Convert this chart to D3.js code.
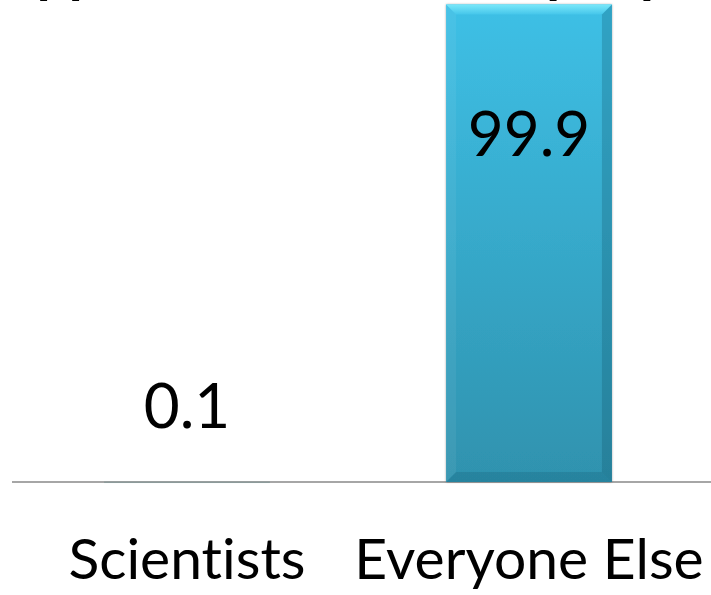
<!DOCTYPE html>
<html>
<head>
<meta charset="utf-8">
<script src="https://cdn.jsdelivr.net/npm/d3@7/dist/d3.min.js"></script>
<style>
  html, body { margin: 0; padding: 0; background: #ffffff; }
  svg { display: block; }
  text { font-family: Lato, "Open Sans", sans-serif; fill: #000; font-variant-ligatures: none; font-feature-settings: "liga" 0, "clig" 0; }
</style>
</head>
<body>
<svg id="chart" width="711" height="595"></svg>
<script>
const categories = ["Scientists", "Everyone Else"];
const values = [0.1, 99.9];
const valueLabels = ["0.1", "99.9"];
const titleText = "Approximate share of people (%)";

const W = 711, H = 595;
const svg = d3.select("#chart");

const x = d3.scaleBand().domain(categories).range([16, 700])
  .paddingInner(0.515).paddingOuter(0.2575);
const y = d3.scaleLinear().domain([0, 100]).range([482, 4]);

const defs = svg.append("defs");
const g1 = defs.append("linearGradient").attr("id", "barGrad")
  .attr("x1", 0).attr("y1", 0).attr("x2", 0).attr("y2", 1);
g1.append("stop").attr("offset", "0%").attr("stop-color", "#3ec0e6");
g1.append("stop").attr("offset", "100%").attr("stop-color", "#2f92ae");

const gTop = defs.append("linearGradient").attr("id", "topBevel")
  .attr("x1", 0).attr("y1", 0).attr("x2", 0).attr("y2", 1);
gTop.append("stop").attr("offset", "0%").attr("stop-color", "#7ae8fa");
gTop.append("stop").attr("offset", "100%").attr("stop-color", "#45c6ea");

const shadow = defs.append("filter").attr("id", "shadow")
  .attr("x", "-10%").attr("y", "-10%").attr("width", "120%").attr("height", "120%");
shadow.append("feDropShadow").attr("dx", 0).attr("dy", 0).attr("stdDeviation", 1.2)
  .attr("flood-color", "#000").attr("flood-opacity", 0.35);

// Title (cut off at the top edge, only descenders visible)
svg.append("text")
  .attr("x", -2).attr("y", -8)
  .style("font-weight", "bold").style("font-size", "56px")
  .text(titleText);

// Axis baseline
const axis = svg.append("g").attr("transform", `translate(0,${y(0)})`)
  .call(d3.axisBottom(x).tickSize(0).tickPadding(57));
axis.select(".domain").remove();
axis.append("line").attr("x1", 12).attr("x2", W).attr("y1", 0).attr("y2", 0)
  .attr("stroke", "#a6a6a6").attr("stroke-width", 2);
axis.selectAll(".tick text")
  .style("font-family", "Lato, 'Open Sans', sans-serif")
  .style("font-variant-ligatures", "none")
  .style("font-size", "57px").attr("fill", "#000")
  .attr("dy", "0.71em");

const data = categories.map((c, i) => ({ c, v: values[i], label: valueLabels[i] }));

const bars = svg.append("g").selectAll("g").data(data).join("g");

bars.append("rect")
  .attr("x", d => x(d.c)).attr("width", x.bandwidth())
  .attr("y", d => y(d.v)).attr("height", d => Math.max(y(0) - y(d.v), 1.5))
  .attr("fill", d => d.v < 1 ? "#8c9a9a" : "url(#barGrad)")
  .attr("filter", d => d.v < 1 ? null : "url(#shadow)");

// Bevel effect for tall bars
const bev = 10;
const tall = bars.filter(d => y(0) - y(d.v) > 3 * bev);
tall.append("path")
  .attr("d", d => {
    const x0 = x(d.c), x1 = x0 + x.bandwidth(), t = y(d.v);
    return `M${x0},${t}L${x1},${t}L${x1 - bev},${t + bev}L${x0 + bev},${t + bev}Z`;
  })
  .attr("fill", "url(#topBevel)");
tall.append("path")
  .attr("d", d => {
    const x0 = x(d.c), t = y(d.v), b = y(0);
    return `M${x0},${t}L${x0 + bev},${t + bev}L${x0 + bev},${b - bev}L${x0},${b}Z`;
  })
  .attr("fill", "#ffffff").attr("opacity", 0.06);
tall.append("path")
  .attr("d", d => {
    const x1 = x(d.c) + x.bandwidth(), t = y(d.v), b = y(0);
    return `M${x1},${t}L${x1 - bev},${t + bev}L${x1 - bev},${b - bev}L${x1},${b}Z`;
  })
  .attr("fill", "#0a4a60").attr("opacity", 0.25);
tall.append("path")
  .attr("d", d => {
    const x0 = x(d.c), x1 = x0 + x.bandwidth(), b = y(0);
    return `M${x0},${b}L${x0 + bev},${b - bev}L${x1 - bev},${b - bev}L${x1},${b}Z`;
  })
  .attr("fill", "#0a4a60").attr("opacity", 0.2);

// Value labels
bars.append("text")
  .attr("x", d => x(d.c) + x.bandwidth() / 2)
  .attr("y", d => d.v > 50 ? y(d.v) + 152 : y(d.v) - 54)
  .attr("text-anchor", "middle")
  .style("font-size", "62px")
  .text(d => d.label);
</script>
</body>
</html>
